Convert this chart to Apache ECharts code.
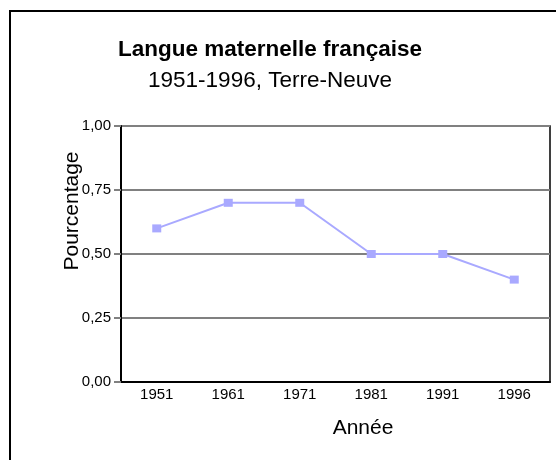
<!DOCTYPE html>
<html>
<head>
<meta charset="utf-8">
<script src="https://cdn.jsdelivr.net/npm/echarts@6/dist/echarts.min.js"></script>
<style>
  html, body { margin: 0; padding: 0; background: #fff; }
  #chart { width: 556px; height: 460px; }
</style>
</head>
<body>
<div id="chart"></div>
<script>
// données
const years = ['1951', '1961', '1971', '1981', '1991', '1996'];
const percentages = [0.6, 0.7, 0.7, 0.5, 0.5, 0.4];
const yTicks = [0, 0.25, 0.5, 0.75, 1];

const font = 'Arial, "Liberation Sans", sans-serif';

const chart = echarts.init(document.getElementById('chart'));

const option = {
  animation: false,
  backgroundColor: '#fff',
  title: {
    text: 'Langue maternelle française',
    subtext: '1951-1996, Terre-Neuve',
    left: 265,
    textAlign: 'center',
    top: 33,
    itemGap: 8,
    textStyle: { fontFamily: font, fontSize: 22.5, fontWeight: 'bold', color: '#000' },
    subtextStyle: { fontFamily: font, fontSize: 22.5, color: '#000' }
  },
  grid: {
    left: 121, top: 126, right: 6, bottom: 78,
    show: true,
    borderColor: '#000',
    borderWidth: 1.5,
    backgroundColor: 'transparent'
  },
  xAxis: [
    {
      type: 'category',
      data: years,
      boundaryGap: true,
      axisLine: { lineStyle: { color: '#000', width: 2 } },
      axisTick: { alignWithLabel: true, length: 4, lineStyle: { color: '#808080', width: 2 } },
      axisLabel: { margin: 5, fontFamily: font, fontSize: 15, color: '#000' }
    },
    {
      // partie intérieure des graduations (elles traversent l'axe)
      type: 'category',
      data: years,
      position: 'bottom',
      boundaryGap: true,
      axisLine: { show: false },
      axisTick: { inside: true, alignWithLabel: true, length: 5, lineStyle: { color: '#808080', width: 2 } },
      axisLabel: { show: false }
    }
  ],
  yAxis: {
    type: 'value',
    min: 0,
    max: 1,
    interval: 0.25,
    axisLine: { show: true, lineStyle: { color: '#000', width: 2 } },
    axisTick: { show: true, length: 7, lineStyle: { color: '#808080', width: 2 } },
    axisLabel: {
      margin: 10,
      fontFamily: font,
      fontSize: 15,
      color: '#000',
      formatter: v => yTicks.includes(v) ? v.toFixed(2).replace('.', ',') : ''
    },
    splitLine: { show: true, lineStyle: { color: '#808080', width: 2 } }
  },
  series: [
    {
      type: 'line',
      data: percentages,
      xAxisIndex: 0,
      symbol: 'rect',
      symbolSize: [9, 8],
      lineStyle: { color: '#a9a9ff', width: 2 },
      itemStyle: { color: '#a9a9ff' },
      z: 5
    }
  ],
  graphic: [
    {
      type: 'rect',
      shape: { x: 10, y: 11, width: 700, height: 600 },
      style: { fill: 'none', stroke: '#000', lineWidth: 2 },
      silent: true
    },
    {
      type: 'text',
      x: 72,
      y: 211,
      rotation: Math.PI / 2,
      style: {
        text: 'Pourcentage',
        font: '21px ' + font,
        fill: '#000',
        textAlign: 'center',
        textVerticalAlign: 'middle'
      },
      z: 10
    },
    {
      type: 'text',
      x: 363,
      y: 428,
      style: {
        text: 'Année',
        font: '21px ' + font,
        fill: '#000',
        textAlign: 'center',
        textVerticalAlign: 'middle'
      }
    }
  ]
};

chart.setOption(option);
window.addEventListener('resize', () => {
  chart.resize();
});
</script>
</body>
</html>
